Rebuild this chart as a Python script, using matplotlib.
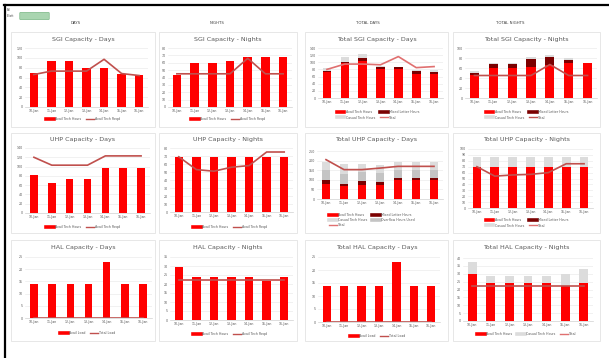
import matplotlib
matplotlib.use("Agg")
import matplotlib.pyplot as plt
from matplotlib.patches import Rectangle, FancyBboxPatch
from matplotlib.lines import Line2D
import numpy as np

# ---------------- data ----------------
dates = ["10-Jan", "11-Jan", "12-Jan", "13-Jan", "14-Jan", "15-Jan", "16-Jan"]

sgi_days_hours = [69, 93, 93, 79, 79, 68, 66]
sgi_days_reqd = [66, 73, 73, 73, 97, 68, 64]
sgi_nights_hours = [43, 60, 60, 62, 68, 68, 68]
sgi_nights_reqd = [45, 45, 45, 45, 66, 45, 45]

tot_sgi_days_avail = [72, 97, 105, 80, 80, 66, 66]
tot_sgi_days_mixed = [5, 5, 7, 8, 8, 10, 8]
tot_sgi_days_casual = [6, 14, 12, 2, 0, 2, 3]
tot_sgi_days_total = [80, 95, 95, 93, 116, 85, 88]

tot_sgi_nights_avail = [47, 60, 60, 63, 67, 70, 70]
tot_sgi_nights_mixed = [4, 9, 9, 15, 16, 7, 0]
tot_sgi_nights_casual = [4, 2, 2, 4, 4, 3, 1]
tot_sgi_nights_total = [45, 45, 45, 45, 67, 45, 45]

uhp_days_hours = [81, 65, 73, 73, 96, 96, 96]
uhp_days_reqd = [120, 103, 103, 103, 123, 123, 123]
uhp_nights_hours = [69, 69, 69, 69, 69, 69, 69]
uhp_nights_reqd = [69, 53, 51, 56, 58, 75, 75]

tot_uhp_days_avail = [80, 66, 75, 75, 97, 97, 97]
tot_uhp_days_mixed = [19, 14, 17, 13, 14, 14, 14]
tot_uhp_days_casual = [44, 50, 42, 37, 42, 42, 42]
tot_uhp_days_overflow = [50, 50, 50, 50, 40, 40, 40]
tot_uhp_days_total = [205, 153, 153, 161, 170, 170, 170]

tot_uhp_nights_avail = [70, 70, 70, 70, 70, 70, 70]
tot_uhp_nights_mixed = [0, 0, 0, 0, 0, 0, 0]
tot_uhp_nights_casual = [17, 17, 17, 17, 17, 17, 17]
tot_uhp_nights_total = [70, 54, 56, 57, 60, 75, 75]

hal_days_avail = [14, 14, 14, 14, 23, 14, 14]
hal_days_total = [0, 0, 0, 0, 0, 0, 0]
hal_nights_hours = [29.5, 24, 24, 24, 24, 21.7, 24]
hal_nights_reqd = [22, 22, 22, 22, 22, 22, 22]

tot_hal_days_avail = [14, 14, 14, 14, 23, 14, 14]
tot_hal_days_total = [0, 0, 0, 0, 0, 0, 0]
tot_hal_nights_avail = [30, 24, 24, 24, 24, 22, 24]
tot_hal_nights_casual = [7.5, 4.4, 4.4, 4.4, 4.4, 8, 9]
tot_hal_nights_total = [22, 22, 22, 22, 22, 22, 22]

# ---------------- styling ----------------
W, H = 609, 358
RED = "#FF0000"
DARK = "#7B0000"
LGREY = "#DCDCDC"
MGREY = "#C4C4C4"
LINE = "#C0504D"
TOTAL = "#E07070"
TXT = "#595959"

fig = plt.figure(figsize=(W / 100, H / 100), dpi=100)
fig.patch.set_facecolor("white")


def fx(x):
    return x / W


def fy(y):
    return 1 - y / H


def panel(box):
    x0, y0, x1, y1 = box
    fig.patches.append(Rectangle((fx(x0), fy(y1)), fx(x1 - x0), (y1 - y0) / H,
                                 transform=fig.transFigure, fill=False,
                                 edgecolor="#E3E3E3", lw=0.6))


def make_ax(box, ymax, ystep):
    x0, y0, x1, y1 = box
    ax = fig.add_axes([fx(x0), fy(y1), fx(x1 - x0), (y1 - y0) / H])
    ax.set_ylim(0, ymax)
    ax.set_yticks(np.arange(0, ymax + 0.01, ystep))
    ax.set_xlim(-0.5, len(dates) - 0.5)
    ax.set_xticks(range(len(dates)))
    ax.set_xticklabels(dates)
    for s in ["top", "right", "left"]:
        ax.spines[s].set_visible(False)
    ax.spines["bottom"].set_color("#D0D0D0")
    ax.spines["bottom"].set_linewidth(0.5)
    ax.grid(axis="y", color="#E6E6E6", lw=0.4)
    ax.set_axisbelow(True)
    ax.tick_params(length=0, labelsize=2.3, colors=TXT, pad=1.5)
    return ax


def title(col, y, text):
    x0, x1 = col
    fig.text(fx((x0 + x1) / 2), fy(y), text, ha="center", va="center",
             fontsize=4.6, color=TXT)


def legend(ax, handles, labels, cx, cy, ncol):
    ax.legend(handles, labels, loc="center", bbox_to_anchor=(fx(cx), fy(cy)),
              bbox_transform=fig.transFigure, ncol=ncol, fontsize=2.3,
              frameon=False, handlelength=2.4, handletextpad=0.4,
              columnspacing=1.5, labelspacing=0.35, borderpad=0,
              labelcolor=TXT)


def bar_h(c):
    return Line2D([0], [0], color=c, lw=2.6)


def line_h(c):
    return Line2D([0], [0], color=c, lw=1.0)


x = np.arange(len(dates))
BW = 0.48
LW = 1.2

# ---------------- frame & headers ----------------
fig.add_artist(Line2D([fx(4), fx(609)], [fy(5), fy(5)], color="black", lw=1.6,
                      transform=fig.transFigure))
fig.add_artist(Line2D([fx(5), fx(5)], [fy(5), fy(358)], color="black", lw=1.6,
                      transform=fig.transFigure))
fig.text(fx(7), fy(13), "Bill\nElliott", fontsize=1.8, color="#333333",
         va="center", ha="left", linespacing=1.6)
fig.patches.append(FancyBboxPatch((fx(21), fy(19)), fx(27), 6 / H,
                                  boxstyle="round,pad=0.002",
                                  transform=fig.transFigure,
                                  facecolor="#A9D5B0", edgecolor="#6DAF7A", lw=0.4))
for hx, ht in [(76, "DAYS"), (217, "NIGHTS"), (368, "TOTAL DAYS"), (510, "TOTAL NIGHTS")]:
    fig.text(fx(hx), fy(23), ht, ha="center", va="center", fontsize=2.8,
             color="#404040")

# panel boxes
cols = [(11, 155), (159, 297), (305, 448), (453, 600)]
rows = [(32, 127), (133, 233), (240, 341)]

for r in rows:
    for c in cols:
        panel((c[0], r[0], c[1], r[1]))

# ---------------- row 1 : SGI ----------------
ax = make_ax((25, 48, 148, 107), 120, 20)
ax.bar(x, sgi_days_hours, BW, color=RED)
ax.plot(x, sgi_days_reqd, color=LINE, lw=LW)
title(cols[0], 39, "SGI Capacity - Days")
legend(ax, [bar_h(RED), line_h(LINE)], ["Avail Tech Hours", "Avail Tech Reqd"], 83, 119, 2)

ax = make_ax((168, 48, 292, 107), 80, 10)
ax.bar(x, sgi_nights_hours, BW, color=RED)
ax.plot(x, sgi_nights_reqd, color=LINE, lw=LW)
title(cols[1], 39, "SGI Capacity - Nights")
legend(ax, [bar_h(RED), line_h(LINE)], ["Avail Tech Hours", "Avail Tech Reqd"], 228, 119, 2)

ax = make_ax((318, 48, 443, 98), 140, 20)
b = np.array(tot_sgi_days_avail)
ax.bar(x, tot_sgi_days_avail, BW, color=RED)
ax.bar(x, tot_sgi_days_mixed, BW, bottom=b, color=DARK)
b = b + np.array(tot_sgi_days_mixed)
ax.bar(x, tot_sgi_days_casual, BW, bottom=b, color=LGREY)
ax.plot(x, tot_sgi_days_total, color=TOTAL, lw=LW)
title(cols[2], 39, "Total SGI Capacity - Days")
legend(ax, [bar_h(RED), bar_h(LGREY), bar_h(DARK), line_h(TOTAL)],
       ["Avail Tech Hours", "Casual Tech Hours", "Mixed Letter Hours", "Total"], 378, 115, 2)

ax = make_ax((465, 48, 597, 98), 100, 20)
b = np.array(tot_sgi_nights_avail)
ax.bar(x, tot_sgi_nights_avail, BW, color=RED)
ax.bar(x, tot_sgi_nights_mixed, BW, bottom=b, color=DARK)
b = b + np.array(tot_sgi_nights_mixed)
ax.bar(x, tot_sgi_nights_casual, BW, bottom=b, color=LGREY)
ax.plot(x, tot_sgi_nights_total, color=LINE, lw=LW)
title(cols[3], 39, "Total SGI Capacity - Nights")
legend(ax, [bar_h(RED), bar_h(LGREY), bar_h(DARK), line_h(LINE)],
       ["Avail Tech Hours", "Casual Tech Hours", "Mixed Letter Hours", "Total"], 527, 115, 2)

# ---------------- row 2 : UHP ----------------
ax = make_ax((25, 148, 150, 213), 140, 20)
ax.bar(x, uhp_days_hours, 0.42, color=RED)
ax.plot(x, uhp_days_reqd, color=LINE, lw=LW)
title(cols[0], 140, "UHP Capacity - Days")
legend(ax, [bar_h(RED), line_h(LINE)], ["Avail Tech Hours", "Avail Tech Reqd"], 83, 227, 2)

ax = make_ax((170, 148, 293, 212), 80, 10)
ax.bar(x, uhp_nights_hours, BW, color=RED)
ax.plot(x, uhp_nights_reqd, color=LINE, lw=LW)
title(cols[1], 140, "UHP Capacity - Nights")
legend(ax, [bar_h(RED), line_h(LINE)], ["Avail Tech Hours", "Avail Tech Reqd"], 230, 227, 2)

ax = make_ax((317, 151, 443, 199), 250, 50)
b = np.array(tot_uhp_days_avail)
ax.bar(x, tot_uhp_days_avail, BW, color=RED)
ax.bar(x, tot_uhp_days_mixed, BW, bottom=b, color=DARK)
b = b + np.array(tot_uhp_days_mixed)
ax.bar(x, tot_uhp_days_overflow, BW, bottom=b, color=MGREY)
b = b + np.array(tot_uhp_days_overflow)
ax.bar(x, tot_uhp_days_casual, BW, bottom=b, color=LGREY)
ax.plot(x, tot_uhp_days_total, color=LINE, lw=LW)
title(cols[2], 140, "Total UHP Capacity - Days")
legend(ax, [bar_h(RED), bar_h(LGREY), line_h(TOTAL), bar_h(DARK), bar_h(MGREY)],
       ["Avail Tech Hours", "Casual Tech Hours", "Total", "Mixed Letter Hours",
        "Overflow Hours Used"], 372, 220, 2)

ax = make_ax((468, 149, 593, 208), 100, 10)
b = np.array(tot_uhp_nights_avail)
ax.bar(x, tot_uhp_nights_avail, BW, color=RED)
ax.bar(x, tot_uhp_nights_mixed, BW, bottom=b, color=DARK)
b = b + np.array(tot_uhp_nights_mixed)
ax.bar(x, tot_uhp_nights_casual, BW, bottom=b, color=LGREY)
ax.plot(x, tot_uhp_nights_total, color=LINE, lw=LW)
title(cols[3], 140, "Total UHP Capacity - Nights")
legend(ax, [bar_h(RED), bar_h(LGREY), bar_h(DARK), line_h(TOTAL)],
       ["Avail Tech Hours", "Casual Tech Hours", "Mixed Letter Hours", "Total"], 527, 223, 2)

# ---------------- row 3 : HAL ----------------
ax = make_ax((25, 257, 152, 318), 25, 5)
ax.bar(x, hal_days_avail, 0.42, color=RED)
ax.plot(x, hal_days_total, color=LINE, lw=LW)
title(cols[0], 248, "HAL Capacity - Days")
legend(ax, [bar_h(RED), line_h(LINE)], ["Avail Load", "Total Load"], 88, 333, 2)

ax = make_ax((170, 257, 293, 320), 35, 5)
ax.bar(x, hal_nights_hours, BW, color=RED)
ax.plot(x, hal_nights_reqd, color=LINE, lw=LW)
title(cols[1], 248, "HAL Capacity - Nights")
legend(ax, [bar_h(RED), line_h(LINE)], ["Avail Tech Hours", "Avail Tech Reqd"], 230, 334, 2)

ax = make_ax((318, 257, 440, 322), 25, 5)
ax.bar(x, tot_hal_days_avail, BW, color=RED)
ax.plot(x, tot_hal_days_total, color=LINE, lw=LW)
title(cols[2], 248, "Total HAL Capacity - Days")
legend(ax, [bar_h(RED), line_h(LINE)], ["Avail Load", "Total Load"], 378, 336, 2)

ax = make_ax((463, 258, 593, 321), 40, 5)
b = np.array(tot_hal_nights_avail)
ax.bar(x, tot_hal_nights_avail, BW, color=RED)
ax.bar(x, tot_hal_nights_casual, BW, bottom=b, color=LGREY)
ax.plot(x, tot_hal_nights_total, color=LINE, lw=LW)
title(cols[3], 248, "Total HAL Capacity - Nights")
legend(ax, [bar_h(RED), bar_h(LGREY), line_h(TOTAL)],
       ["Avail Tech Hours", "Casual Tech Hours", "Total"], 527, 334, 3)

fig.savefig("out.png", dpi=100, facecolor="white")
